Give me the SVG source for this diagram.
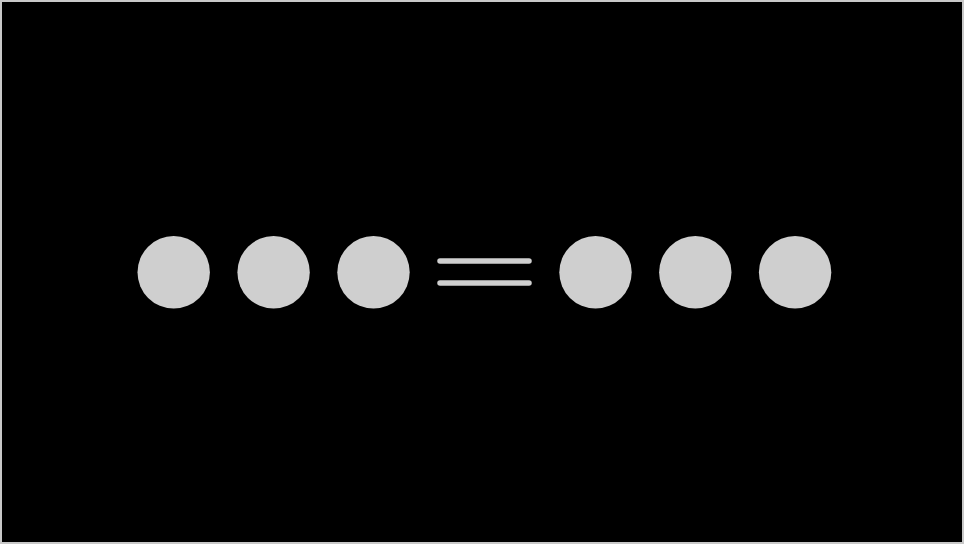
<svg xmlns="http://www.w3.org/2000/svg" width="964" height="544" viewBox="0 0 964 544">
<style>
.dot{fill:#cfcfcf}
.bar{stroke:#cfcfcf;stroke-width:5.5;stroke-linecap:round;fill:none}
</style>
<rect x="1" y="1" width="962" height="542" fill="#000" stroke="#c8c8c8" stroke-width="2"/>
<g id="left1"><circle class="dot" cx="173.7" cy="272.3" r="36.2"/></g>
<g id="left2"><circle class="dot" cx="273.6" cy="272.3" r="36.2"/></g>
<g id="left3"><circle class="dot" cx="373.5" cy="272.3" r="36.2"/></g>
<g id="equals"><line class="bar" x1="440" y1="261" x2="529" y2="261"/><line class="bar" x1="440" y1="283" x2="529" y2="283"/></g>
<g id="right1"><circle class="dot" cx="595.5" cy="272.3" r="36.2"/></g>
<g id="right2"><circle class="dot" cx="695.3" cy="272.3" r="36.2"/></g>
<g id="right3"><circle class="dot" cx="795.1" cy="272.3" r="36.2"/></g>
<g id="connectors"></g>
</svg>
